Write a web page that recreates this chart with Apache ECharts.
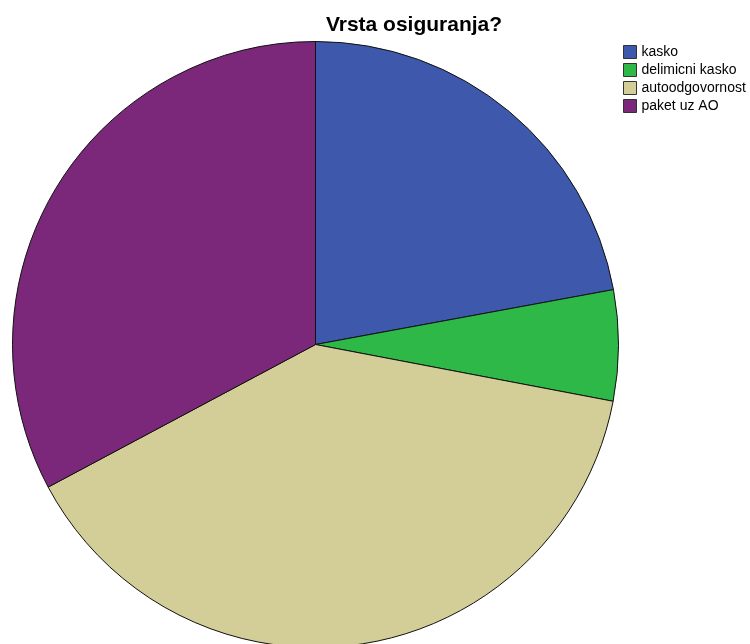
<!DOCTYPE html>
<html>
<head>
<meta charset="utf-8">
<script src="https://cdn.jsdelivr.net/npm/echarts@6/dist/echarts.min.js"></script>
<style>
  html, body { margin: 0; padding: 0; background: #fff; }
  #chart { width: 750px; height: 644px; }
</style>
</head>
<body>
<div id="chart"></div>
<script>
// Share of each insurance type (percent)
const categories = ['kasko', 'delimicni kasko', 'autoodgovornost', 'paket uz AO'];
const shares = [22.1, 5.9, 39.2, 32.8];
const colors = ['#3e58ac', '#2eb848', '#d3ce97', '#7b287b'];

const chart = echarts.init(document.getElementById('chart'), null, { renderer: 'canvas' });

chart.setOption({
  animation: false,
  backgroundColor: '#ffffff',
  title: {
    text: 'Vrsta osiguranja?',
    left: 414,
    textAlign: 'center',
    top: 15,
    padding: 0,
    textStyle: {
      fontFamily: 'Liberation Sans, Arial, sans-serif',
      fontWeight: 'bold',
      fontSize: 21,
      color: '#000'
    }
  },
  legend: {
    orient: 'vertical',
    left: 623,
    top: 45,
    padding: 0,
    itemWidth: 13,
    itemHeight: 13,
    itemGap: 4,
    icon: 'rect',
    textStyle: {
      fontFamily: 'Liberation Sans, Arial, sans-serif',
      fontSize: 14,
      color: '#000'
    },
    itemStyle: { borderColor: '#333', borderWidth: 1 },
    data: categories
  },
  series: [{
    type: 'pie',
    center: [315.5, 344.5],
    radius: 303,
    startAngle: 90,
    clockwise: true,
    label: { show: false },
    labelLine: { show: false },
    emphasis: { disabled: true },
    itemStyle: { borderColor: '#111', borderWidth: 1 },
    data: categories.map((name, i) => ({
      name: name,
      value: shares[i],
      itemStyle: { color: colors[i] }
    }))
  }]
});
</script>
</body>
</html>
